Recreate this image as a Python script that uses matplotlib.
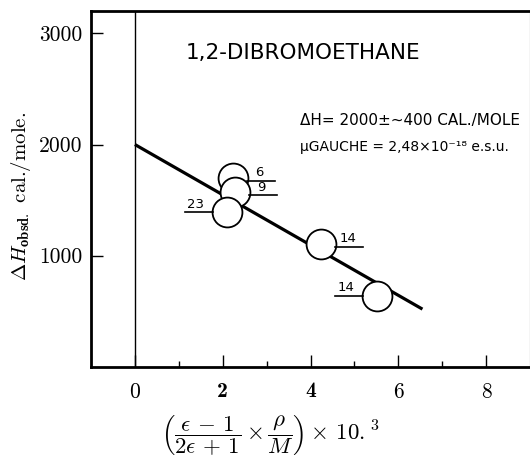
import matplotlib
matplotlib.use("Agg")
import matplotlib.pyplot as plt
from matplotlib.lines import Line2D
from matplotlib import transforms as mtransforms

# Measured points (polarity parameter vs observed enthalpy difference)
polarity = [2.23, 2.27, 2.09, 4.25, 5.52]
delta_h = [1700, 1570, 1390, 1110, 640]
point_labels = ["6", "9", "23", "14", "14"]
label_side = [1, 1, -1, 1, -1]          # +1 label right of circle, -1 left

# Straight-line fit through the points
fit_x = [0.0, 6.55]
fit_y = [2000, 520]

x_major = [0, 2, 4, 6, 8]
x_minor = [1, 3, 5, 7]
y_major = [1000, 2000, 3000]

plt.rcParams["mathtext.fontset"] = "cm"

fig = plt.figure(figsize=(5.30, 4.61), dpi=100)
ax = fig.add_axes([0.1717, 0.204, 0.8283, 0.772])
ax.set_xlim(-1, 9)
ax.set_ylim(0, 3200)

for side in ("left", "bottom", "top"):
    ax.spines[side].set_linewidth(2.0)
ax.spines["right"].set_linewidth(0.8)
ax.spines["right"].set_color("#555555")

ax.axvline(0, color="black", lw=1.0, zorder=1)
ax.plot(fit_x, fit_y, color="black", lw=2.3, solid_capstyle="butt", zorder=2)
ax.plot(polarity, delta_h, linestyle="none", marker="o", markersize=21.5,
        markerfacecolor="white", markeredgecolor="black", markeredgewidth=1.3,
        zorder=3)

ax.set_xticks(x_major)
ax.set_xticks(x_minor, minor=True)
ax.set_yticks(y_major)
ax.tick_params(axis="both", which="major", direction="in", length=8.5,
               width=1.0, labelsize=15.5)
ax.tick_params(axis="x", which="minor", direction="in", length=4, width=1.0)
ax.tick_params(axis="x", which="major", pad=11)
ax.tick_params(axis="y", which="major", pad=6.5)
ax.tick_params(top=False, right=False)
for lab in ax.get_xticklabels() + ax.get_yticklabels():
    lab.set_fontfamily("cmr10")
for lab in ax.get_xticklabels():
    if lab.get_text() in ("2", "4"):
        lab.set_fontfamily("cmb10")

# Point labels with their underlines, offset in pixels from each circle centre
text_off = {1: (27, 5), -1: (-31, 8)}
line_off = {1: (14, 42, -3), -1: (-42, -14, 0)}
for x, y, lab, side in zip(polarity, delta_h, point_labels, label_side):
    ox, oy = ax.transData.transform((x, y))
    tr = mtransforms.Affine2D().translate(ox, oy)
    tx, ty = text_off[side]
    fig.text(tx, ty, lab, transform=tr, ha="center", va="center",
             fontsize=9.5, family="DejaVu Sans")
    x0, x1, ly = line_off[side]
    fig.add_artist(Line2D([x0, x1], [ly, ly], transform=tr, color="black", lw=1.2))

ax.text(0.482, 0.883, "1,2-DIBROMOETHANE", transform=ax.transAxes,
        ha="center", va="center", fontsize=15.5, family="DejaVu Sans")
ax.text(0.476, 0.693, "ΔH= 2000±~400 CAL./MOLE", transform=ax.transAxes,
        ha="left", va="center", fontsize=11, family="DejaVu Sans")
ax.text(0.476, 0.617, "µGAUCHE = 2,48×10⁻¹⁸ e.s.u.",
        transform=ax.transAxes, ha="left", va="center", fontsize=10,
        family="DejaVu Sans")

fig.text(0.040, 0.573, r"$\Delta H_{\mathbf{obsd.}}$ cal./mole.", rotation=90,
         ha="center", va="center", fontsize=15, family="cmr10")
fig.text(0.509, 0.054,
         r"$\left(\dfrac{\epsilon\,-\,1}{2\epsilon\,+\,1}\times\dfrac{\rho}{M}\right)\times\,10.^{3}$",
         ha="center", va="center", fontsize=16.5)

fig.savefig("out.png", dpi=100)
